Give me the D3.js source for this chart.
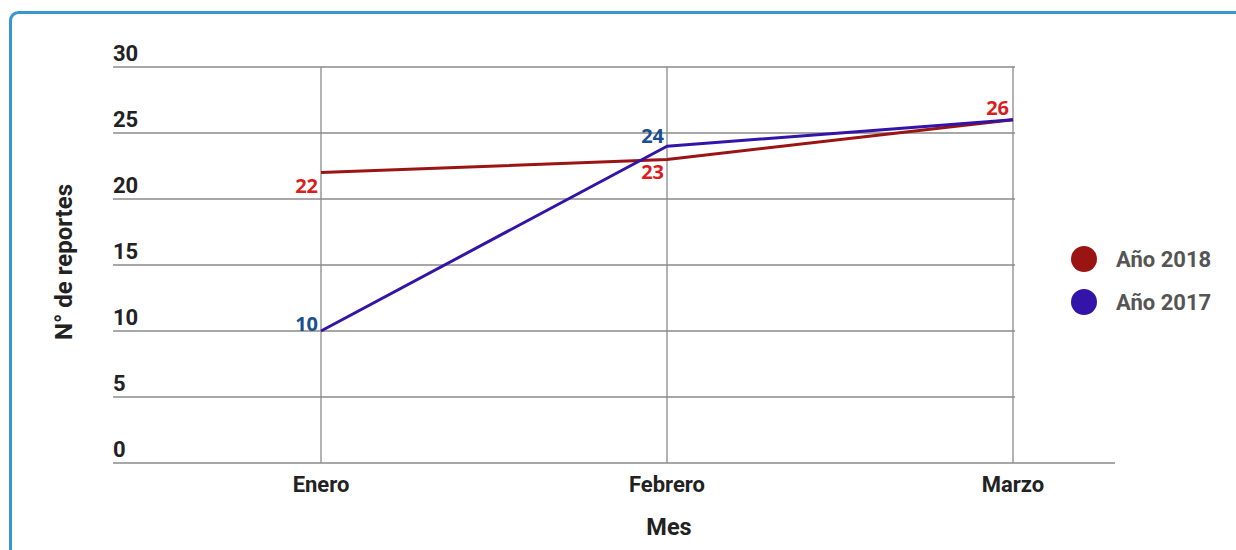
<!DOCTYPE html>
<html><head><meta charset="utf-8">
<script src="https://cdn.jsdelivr.net/npm/d3@7"></script>
<style>body{margin:0;background:#fff;}svg{display:block;}</style>
</head><body><svg id="c" width="1236" height="550"></svg>
<script>
const months = ["Enero", "Febrero", "Marzo"];
const values2018 = [22, 23, 26];
const values2017 = [10, 24, 26];
const yTicks = [0, 5, 10, 15, 20, 25, 30];
const seriesNames = ["Año 2018", "Año 2017"];
const seriesColors = ["#9b1414", "#3214a8"];
const labelColors = ["#d81e1e", "#1a4f8f"];

const svg = d3.select("#c");
const W = 1236, H = 550;
// outer frame
svg.append("rect").attr("x", 10.5).attr("y", 12.5).attr("width", W + 20).attr("height", H + 20)
  .attr("rx", 8).attr("fill", "none").attr("stroke", "#3996cf").attr("stroke-width", 3);

const left = 113, gridRight = 1015, axisRight = 1115;
const x = d3.scalePoint().domain(months).range([321, 1013]);
const y = d3.scaleLinear().domain([0, 30]).range([463, 67]);

const g = svg.append("g");
// horizontal grid
g.selectAll("line.h").data(yTicks).join("line")
  .attr("x1", left).attr("x2", d => d === 0 ? axisRight : gridRight)
  .attr("y1", d => y(d)).attr("y2", d => y(d))
  .attr("stroke", "#8a8a8a").attr("stroke-width", 1.3);
// vertical grid
g.selectAll("line.v").data(months).join("line")
  .attr("x1", d => x(d)).attr("x2", d => x(d))
  .attr("y1", y(30)).attr("y2", y(0))
  .attr("stroke", "#8a8a8a").attr("stroke-width", 1.3);
// y tick labels
g.selectAll("text.yt").data(yTicks).join("text")
  .attr("x", left).attr("y", d => y(d) - 6)
  .attr("font-family", "Roboto, sans-serif").attr("font-weight", "bold").attr("font-size", 22)
  .attr("fill", "#222").text(d => d);
// x tick labels
g.selectAll("text.xt").data(months).join("text")
  .attr("x", d => x(d)).attr("y", 492).attr("text-anchor", "middle")
  .attr("font-family", "Roboto, sans-serif").attr("font-weight", "bold").attr("font-size", 22)
  .attr("fill", "#222").text(d => d);
// axis titles
svg.append("text").attr("x", 669).attr("y", 535).attr("text-anchor", "middle")
  .attr("font-family", "Roboto, sans-serif").attr("font-weight", "bold").attr("font-size", 23.5)
  .attr("fill", "#222").text("Mes");
svg.append("text").attr("transform", "translate(72,262) rotate(-90)").attr("text-anchor", "middle")
  .attr("font-family", "Roboto, sans-serif").attr("font-weight", "bold").attr("font-size", 24)
  .attr("fill", "#222").text("N° de reportes");

const line = d3.line().x((d, i) => x(months[i])).y(d => y(d));
const series = [values2018, values2017];
series.forEach((vals, si) => {
  g.append("path").datum(vals).attr("d", line).attr("fill", "none")
    .attr("stroke", seriesColors[si]).attr("stroke-width", 3).attr("stroke-linejoin", "round");
});

// data labels
const off2018 = [[-3, 20], [-3, 20], [-4, -5]];
const off2017 = [[-3, 0], [-3, -3], [-4, -5]];
[[values2018, off2018, 0], [values2017, off2017, 1]].forEach(([vals, offs, si]) => {
  vals.forEach((v, i) => {
    if (si === 1 && i === 2) return; // overlapping label hidden
    g.append("text").attr("x", x(months[i]) + offs[i][0]).attr("y", y(v) + offs[i][1])
      .attr("text-anchor", "end").attr("font-family", "'Open Sans', sans-serif")
      .attr("font-weight", "bold").attr("font-size", 20).attr("fill", labelColors[si]).text(v);
  });
});

// legend
const leg = svg.append("g");
seriesNames.forEach((n, i) => {
  leg.append("circle").attr("cx", 1084).attr("cy", 259 + i * 43).attr("r", 13).attr("fill", seriesColors[i]);
  leg.append("text").attr("x", 1116).attr("y", 267 + i * 43)
    .attr("font-family", "Roboto, sans-serif").attr("font-weight", "bold").attr("font-size", 22)
    .attr("fill", "#555").text(n);
});
</script></body></html>
